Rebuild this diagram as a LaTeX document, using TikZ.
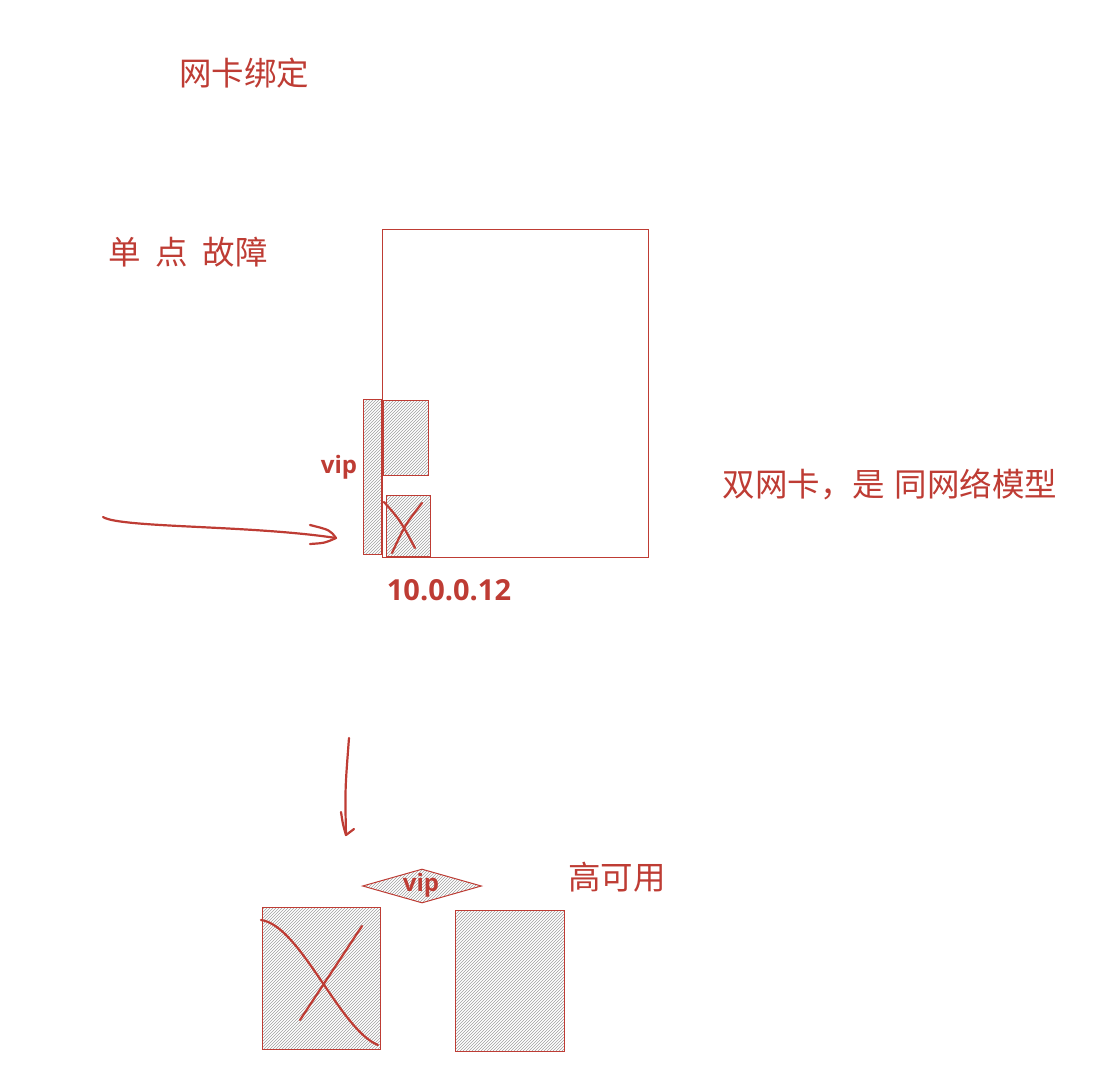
\documentclass[tikz,border=0pt]{standalone}
\usepackage{fontspec}
\newfontfamily\cjk{Noto Sans CJK SC}
\setsansfont{Open Sans}
\usetikzlibrary{patterns,shapes.geometric}
\definecolor{ink}{RGB}{190,60,52}
\tikzset{
  box/.style={draw=ink, line width=1pt, inner sep=0pt, anchor=north west},
  hatch/.style={box, pattern=north east lines, pattern color=gray!75},
  lbl/.style={text=ink, inner sep=0pt, font=\cjk\fontsize{32.5}{38}\selectfont},
  hand/.style={text=ink, inner sep=0pt, font=\sffamily\bfseries\fontsize{24}{28}\selectfont},
  stroke/.style={draw=ink, line width=2.2pt, line cap=round, line join=round},
}
\begin{document}
\begin{tikzpicture}[x=1pt,y=-1pt]
\useasboundingbox (0,0) rectangle (1103,1067);
% texts
\node[lbl] (t1) at (244,73) {网卡绑定};
\node[lbl] (t2) at (188,252) {单\hspace{0.45em}点\hspace{0.45em}故障};
\node[lbl] (t3) at (890,484) {双网卡，是\hspace{0.3em}同网络模型};
\node[lbl] (t4) at (617,877) {高可用};
% big server box
\node[box, minimum width=266pt, minimum height=328pt] (srv) at (382,229) {};
\node[hatch, minimum width=18pt, minimum height=155pt] (vipstrip) at (363,399) {};
\node[hatch, minimum width=45pt, minimum height=75pt] (nic1) at (383,400) {};
\node[hatch, minimum width=44pt, minimum height=61pt] (nic2) at (386,495) {};
\node[hand] (vip1) at (339,467) {vip};
\node[hand, font=\sffamily\bfseries\fontsize{29}{33}\selectfont] (ip) at (449,590) {10.0.0.12};
% X on failed nic
\coordinate (xa1) at (384,502); \coordinate (xa2) at (415,548);
\coordinate (xb1) at (422,503); \coordinate (xb2) at (392,553);
\draw[stroke] (xa1) .. controls (400,520) .. (xa2);
\draw[stroke] (xb1) .. controls (405,525) .. (xb2);
% horizontal arrow
\coordinate (ha1) at (103,517); \coordinate (ha2) at (336,538);
\draw[stroke] (ha1) .. controls (120,528) and (250,525) .. (ha2);
\draw[stroke] (310,525) .. controls (330,530) .. (ha2) .. controls (325,543) .. (310,544);
% vertical arrow
\coordinate (va1) at (349,738); \coordinate (va2) at (346,835);
\draw[stroke] (va1) .. controls (345,790) .. (va2);
\draw[stroke] (341,812) .. controls (343,825) .. (va2) -- (354,829);
% bottom
\node[diamond, draw=ink, line width=1pt, pattern=north east lines, pattern color=gray!75,
      minimum width=119pt, minimum height=34pt, inner sep=0pt, aspect=3.5] (dia) at (422,886) {};
\node[hand] (vip2) at (421,885) {vip};
\node[hatch, minimum width=118pt, minimum height=142pt] (b1) at (262,907) {};
\node[hatch, minimum width=109pt, minimum height=141pt] (b2) at (455,910) {};
\coordinate (c1) at (261,920); \coordinate (c2) at (378,1045);
\draw[stroke] (c1) .. controls (300,925) and (340,1030) .. (c2);
\coordinate (d1) at (362,926); \coordinate (d2) at (300,1020);
\draw[stroke] (d1) -- (d2);
\end{tikzpicture}
\end{document}
